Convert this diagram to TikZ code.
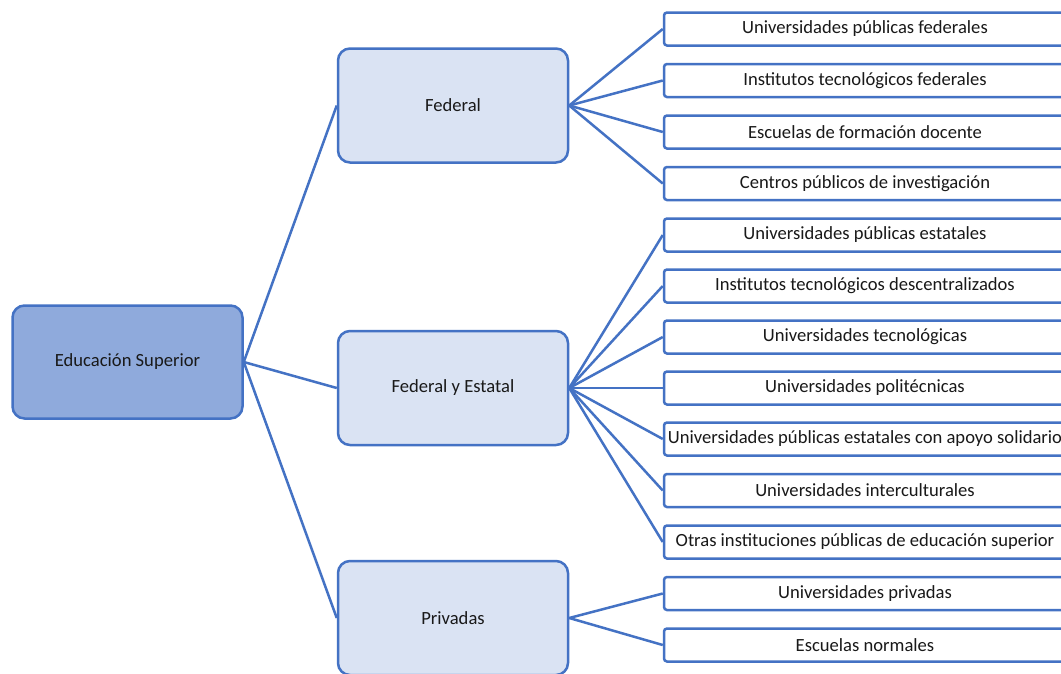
\documentclass[tikz,border=0pt]{standalone}
\usepackage{fontspec}
\setmainfont{Carlito}
\definecolor{edge}{HTML}{4472C4}
\definecolor{rootfill}{HTML}{8FAADC}
\definecolor{midfill}{HTML}{DAE3F3}
\begin{document}
\begin{tikzpicture}[x=1pt,y=-1pt,
  every node/.style={font=\fontsize{18.6}{22}\selectfont, text=black!90, inner sep=0pt},
  rootbox/.style={draw=edge, line width=2.5pt, fill=rootfill, rounded corners=12pt, minimum width=230pt, minimum height=113pt},
  midbox/.style={draw=edge, line width=2.5pt, fill=midfill, rounded corners=12pt, minimum width=230pt, minimum height=114pt},
  leafbox/.style={draw=edge, line width=2.5pt, fill=white, rounded corners=3pt, minimum width=402pt, minimum height=33pt},
  conn/.style={draw=edge, line width=2.5pt}]
\useasboundingbox (0,0) rectangle (1061,673);
\fill[white] (0,0) rectangle (1061,673);

\node[rootbox] (root) at (127.5,362) {Educación Superior};
\node[midbox] (fed) at (453,105.5) {Federal};
\node[midbox] (fye) at (453,388) {Federal y Estatal};
\node[midbox] (priv) at (453,618) {Privadas};

\node[leafbox] (l1) at (865,29) {Universidades públicas federales};
\node[leafbox] (l2) at (865,80.5) {Institutos tecnológicos federales};
\node[leafbox] (l3) at (865,132) {Escuelas de formación docente};
\node[leafbox] (l4) at (865,183.5) {Centros públicos de investigación};
\node[leafbox] (l5) at (865,235) {Universidades públicas estatales};
\node[leafbox] (l6) at (865,286) {Institutos tecnológicos descentralizados};
\node[leafbox] (l7) at (865,337) {Universidades tecnológicas};
\node[leafbox] (l8) at (865,388) {Universidades politécnicas};
\node[leafbox] (l9) at (865,439) {\makebox[0pt][c]{Universidades públicas estatales con apoyo solidario}};
\node[leafbox] (l10) at (865,490.5) {Universidades interculturales};
\node[leafbox] (l11) at (865,542) {Otras instituciones públicas de educación superior};
\node[leafbox] (l12) at (865,593.5) {Universidades privadas};
\node[leafbox] (l13) at (865,645) {Escuelas normales};

\foreach \c in {fed,fye,priv} \draw[conn] (root.east) -- (\c.west);
\foreach \c in {l1,l2,l3,l4} \draw[conn] (fed.east) -- (\c.west);
\foreach \c in {l5,l6,l7,l8,l9,l10,l11} \draw[conn] (fye.east) -- (\c.west);
\foreach \c in {l12,l13} \draw[conn] (priv.east) -- (\c.west);
\end{tikzpicture}
\end{document}
